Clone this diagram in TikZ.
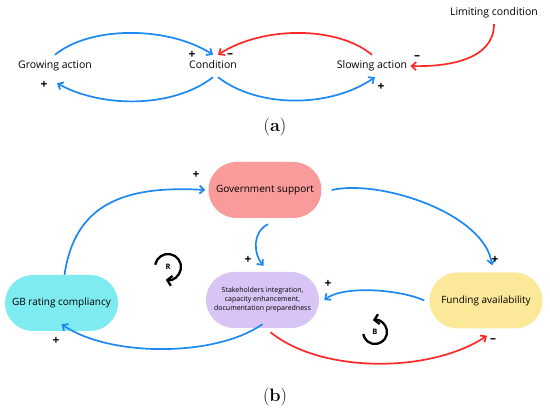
\documentclass[tikz,border=0pt]{standalone}
\usepackage{fontspec}
\usepackage{tikz}
\usetikzlibrary{arrows.meta,positioning}
\setsansfont{Open Sans}
\definecolor{linkblue}{RGB}{28, 136, 242}
\definecolor{linkred}{RGB}{255, 40, 40}
\definecolor{govpink}{RGB}{249, 155, 155}
\definecolor{ratingcyan}{RGB}{125, 235, 239}
\definecolor{stakelilac}{RGB}{216, 196, 245}
\definecolor{fundyellow}{RGB}{252, 232, 153}

\begin{document}
\begin{tikzpicture}[
    x=1pt, y=-1pt,
    every node/.style={align=center, font=\sffamily},
    varname/.style={inner xsep=3pt, inner ysep=6pt, text height=7.5pt, text depth=2.5pt, font=\sffamily\fontsize{10.5}{12}\selectfont},
    govbox/.style={rectangle, rounded corners=28pt, minimum width=113pt, minimum height=56pt, fill=govpink, font=\sffamily\fontsize{10}{12}\selectfont},
    ratingbox/.style={rectangle, rounded corners=28pt, minimum width=113pt, minimum height=56pt, fill=ratingcyan, font=\sffamily\fontsize{10}{12}\selectfont},
    stakebox/.style={rectangle, rounded corners=28pt, minimum width=113pt, minimum height=56pt, fill=stakelilac, font=\sffamily\fontsize{7}{9}\selectfont},
    fundbox/.style={rectangle, rounded corners=28pt, minimum width=113pt, minimum height=56pt, fill=fundyellow, font=\sffamily\fontsize{10}{12}\selectfont},
    sign/.style={inner sep=0pt, font=\sffamily\bfseries\fontsize{12}{12}\selectfont},
    arrow/.style={line width=1.7pt, draw=linkblue, -{Straight Barb[length=4.5pt, width=8pt]}},
    redarrow/.style={arrow, draw=linkred},
    loopmark/.style={line width=2.3pt, -{Straight Barb[length=4.5pt, width=10pt]}},
    looptag/.style={font=\sffamily\bfseries\fontsize{7.5}{7.5}\selectfont},
    caption/.style={font=\rmfamily\fontsize{18}{20}\selectfont}
]
\useasboundingbox (0,0) rectangle (550,414);

% Part (a) variables
\node[varname] (lim) at (494,13) {Limiting condition};
\node[varname] (grow) at (55,66) {Growing action};
\node[varname] (cond) at (213,66) {Condition};
\node[varname] (slow) at (372,66) {Slowing action};

% Part (a) links
\draw[arrow] (grow.north) .. controls +(35,-29) and +(-45,-29) .. (cond.north);
\draw[redarrow] (slow.north) .. controls +(-35,-29) and +(45,-29) .. ([xshift=5pt]cond.north);
\draw[arrow] (cond.south) .. controls +(-40,31) and +(45,25) .. ([shift={(2,6)}]grow.south);
\draw[arrow] ([xshift=5pt]cond.south) .. controls +(40,31) and +(-45,31) .. ([xshift=3pt]slow.south);
\draw[redarrow] (lim.south) .. controls +(0,35) and +(39,1) .. (slow.east);

% Part (a) polarities
\node[sign] (s1) at (192,55) {+};
\node[sign] (s2) at (230,56) {--};
\node[sign] (s3) at (44,85) {+};
\node[sign] (s4) at (381,87) {+};
\node[sign] (s5) at (417,58) {--};

\node[caption] (capa) at (275,127) {(\textbf{a})};

% Part (b) variables
\node[govbox] (gov) at (265,190) {Government support};
\node[ratingbox] (gb) at (61.5,303) {GB rating compliancy};
\node[stakebox] (stake) at (262.5,300) {Stakeholders integration,\\capacity enhancement,\\documentation preparedness};
\node[fundbox] (fund) at (486,300.5) {Funding availability};

% Part (b) links
\draw[arrow] ([xshift=3pt]gb.north) .. controls +(10,-69) and +(-84,-5) .. ([xshift=-3pt]gov.west);
\draw[arrow] ([xshift=10pt]gov.east) .. controls +(50,-11) and +(-7,-51) .. ([shift={(6,-7)}]fund.north);
\draw[arrow] ([shift={(3,6)}]gov.south) .. controls +(-16,8) and +(-10,-12) .. ([shift={(1,-6)}]stake.north);
\draw[arrow] ([xshift=-5pt]fund.west) .. controls +(-24,-11) and +(20,-15) .. ([xshift=5pt]stake.east);
\draw[arrow] ([yshift=4pt]stake.south) .. controls +(-47,33) and +(48,33) .. ([yshift=7pt]gb.south);
\draw[redarrow] ([shift={(8,4)}]stake.south) .. controls +(50,41) and +(-57,38) .. ([shift={(1,7)}]fund.south);

% Part (b) polarities
\node[sign] (p1) at (196,175) {+};
\node[sign] (p2) at (495,260) {+};
\node[sign] (p3) at (248,260) {+};
\node[sign] (p4) at (328,284) {+};
\node[sign] (p5) at (56,341) {+};
\node[sign] (p6) at (493,341) {--};

% Loop markers
\node[looptag] (rloop) at (168,267) {R};
\draw[loopmark] (rloop.center) ++(-170:13) arc[start angle=-170, end angle=100, radius=13];
\node[looptag] (bloop) at (375,332) {B};
\draw[loopmark] (bloop.center) ++(170:12) arc[start angle=170, end angle=-100, radius=12];

\node[caption] (capb) at (275,397) {(\textbf{b})};

\end{tikzpicture}
\end{document}
